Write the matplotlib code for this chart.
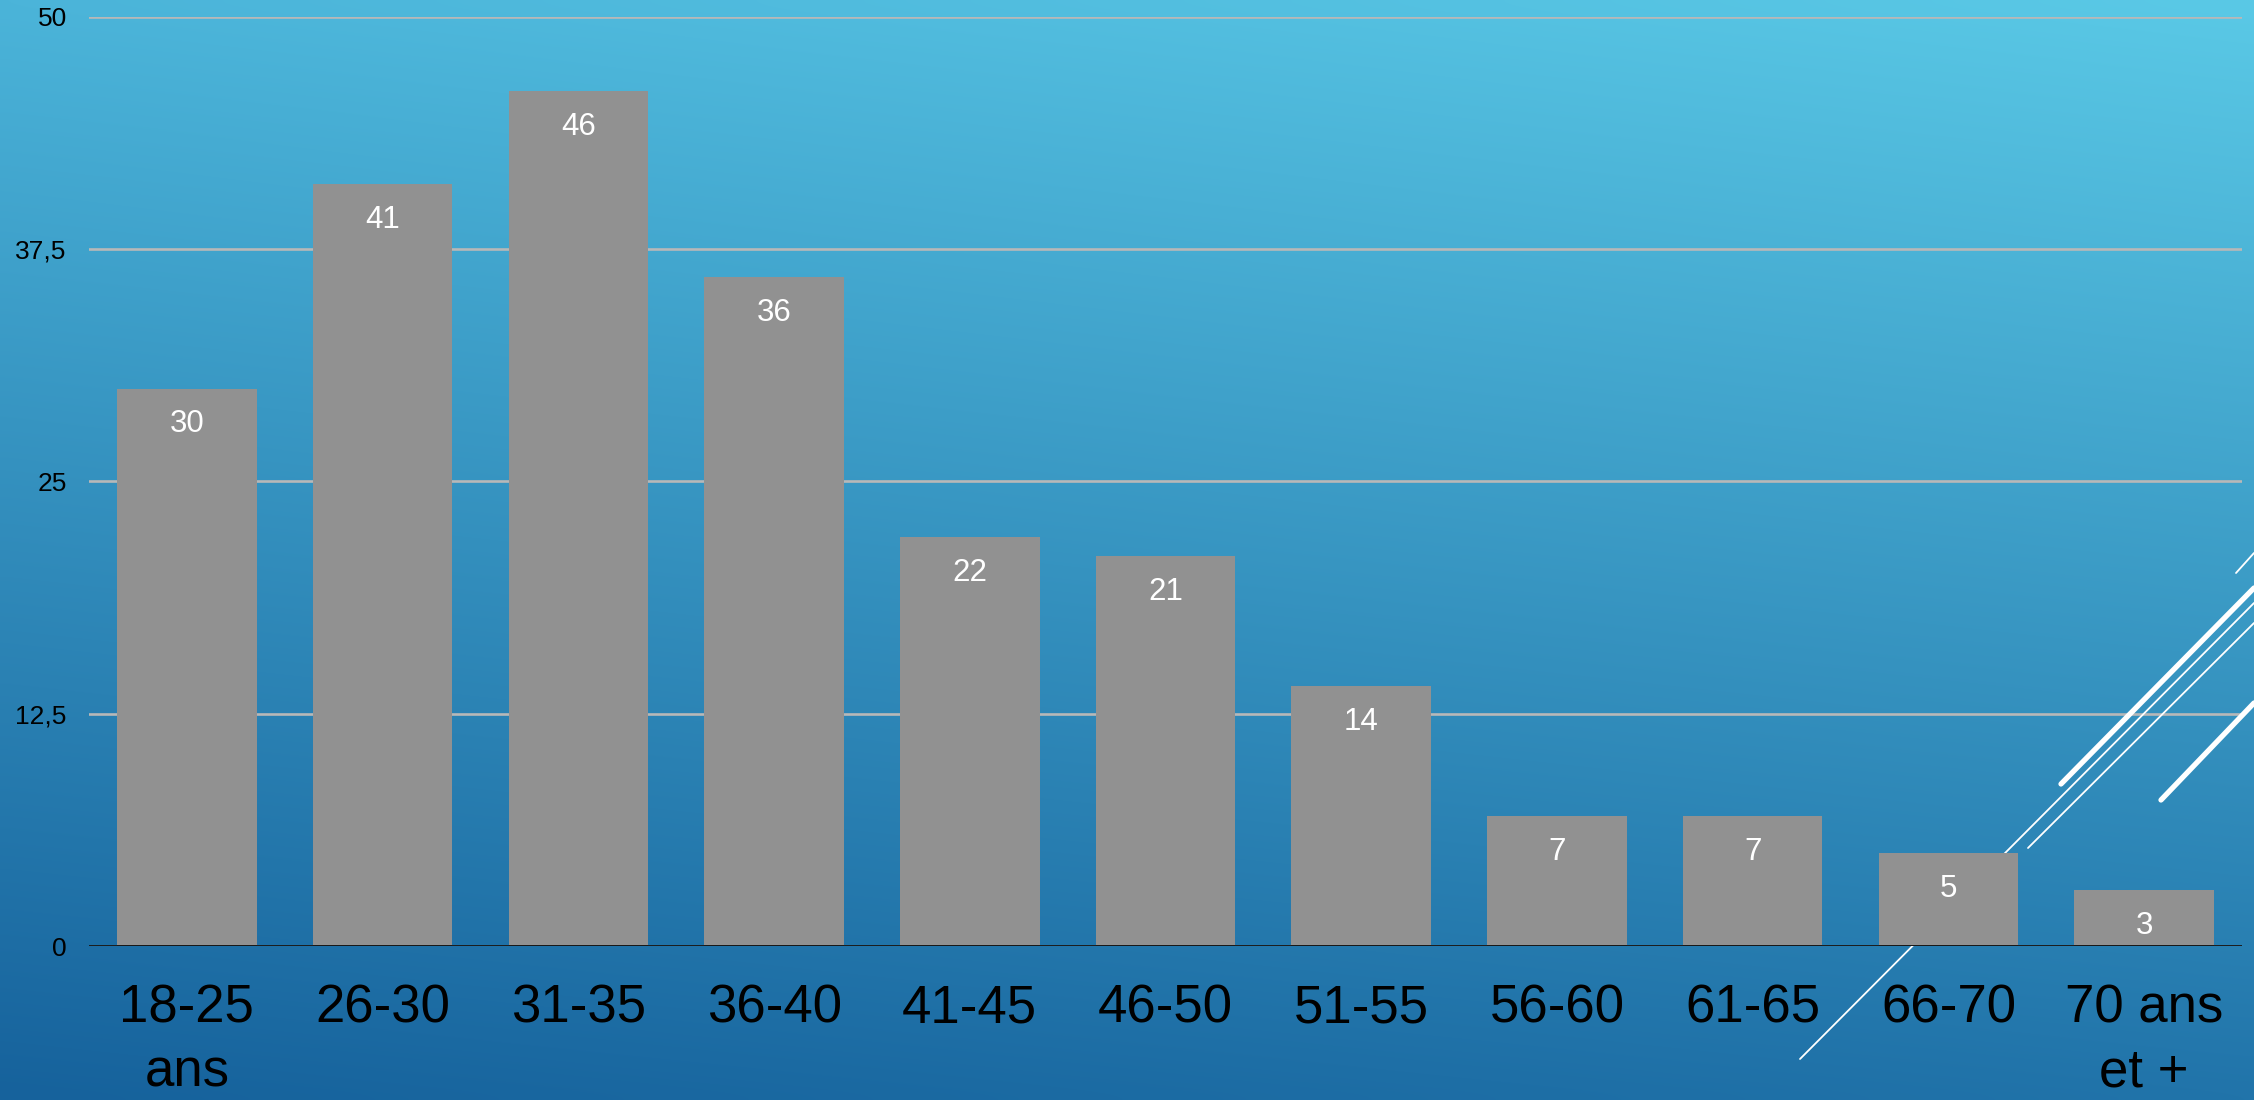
import matplotlib
matplotlib.use('Agg')  # headless
import matplotlib.pyplot as plt
import numpy as np
from matplotlib.lines import Line2D

plt.rcParams['font.family'] = ['Liberation Sans', 'DejaVu Sans']

# data
categories = ['18-25\nans', '26-30', '31-35', '36-40', '41-45', '46-50',
              '51-55', '56-60', '61-65', '66-70', '70 ans\net +']
counts = [30, 41, 46, 36, 22, 21, 14, 7, 7, 5, 3]
ytick_values = [0, 12.5, 25, 37.5, 50]
ytick_labels = ['0', '12,5', '25', '37,5', '50']

W, H = 2254, 1100
fig = plt.figure(figsize=(W / 100, H / 100), dpi=100)

# gradient background (light cyan top right -> dark blue bottom left)
bg = fig.add_axes([0, 0, 1, 1], zorder=-1)
tl = np.array([75, 180, 217]) / 255
tr = np.array([90, 201, 230]) / 255
bl = np.array([22, 98, 156]) / 255
br = np.array([33, 116, 170]) / 255
u = np.linspace(0, 1, 200)[None, :, None]
v = np.linspace(0, 1, 100)[:, None, None]
grad = (1 - v) * ((1 - u) * tl + u * tr) + v * ((1 - u) * bl + u * br)
bg.imshow(grad, aspect='auto', extent=[0, 1, 0, 1], interpolation='bicubic')
bg.axis('off')

left, right = 89 / W, 2242 / W
bottom, top = 1 - 946 / H, 1 - 17 / H
ax = fig.add_axes([left, bottom, right - left, top - bottom])
ax.set_facecolor('none')

x = np.arange(len(categories))
bars = ax.bar(x, counts, width=0.713, color='#919191', zorder=1)

for rect, val in zip(bars, counts):
    ax.annotate(str(val), (rect.get_x() + rect.get_width() / 2, rect.get_height()),
                xytext=(0, -31.5), textcoords='offset points',
                ha='center', va='baseline', color='white', fontsize=22.5)

ax.set_xlim(-0.5, len(categories) - 0.5)
ax.set_ylim(0, 50)
ax.set_yticks(ytick_values)
ax.set_yticklabels(ytick_labels, fontsize=19)
ax.set_xticks(x)
ax.set_xticklabels(categories, fontsize=38, linespacing=1.37)
ax.tick_params(axis='both', length=0)
ax.tick_params(axis='y', pad=16)
ax.tick_params(axis='x', pad=27)

ax.set_axisbelow(True)
ax.yaxis.grid(True, color='#b8b8b8', linewidth=1.9)
for s in ax.spines.values():
    s.set_visible(False)
ax.axhline(0, color='black', linewidth=1.9, zorder=2)


# decorative diagonal strokes, in figure pixels (y from top)
def deco(p0, p1, lw, z):
    ln = Line2D([p0[0] / W, p1[0] / W], [1 - p0[1] / H, 1 - p1[1] / H],
                transform=fig.transFigure, color='white', linewidth=lw,
                solid_capstyle='round', zorder=z, clip_on=False)
    ax.add_artist(ln)


deco((1800, 1059), (2254, 603), 1.3, 0.8)
deco((2028, 848), (2254, 623), 1.3, 0.8)
deco((2061, 784), (2254, 588), 3.8, 3)
deco((2161, 800), (2254, 703), 3.8, 3)
deco((2236, 573), (2254, 553), 1.3, 3)

fig.savefig('out.png', dpi=100)
